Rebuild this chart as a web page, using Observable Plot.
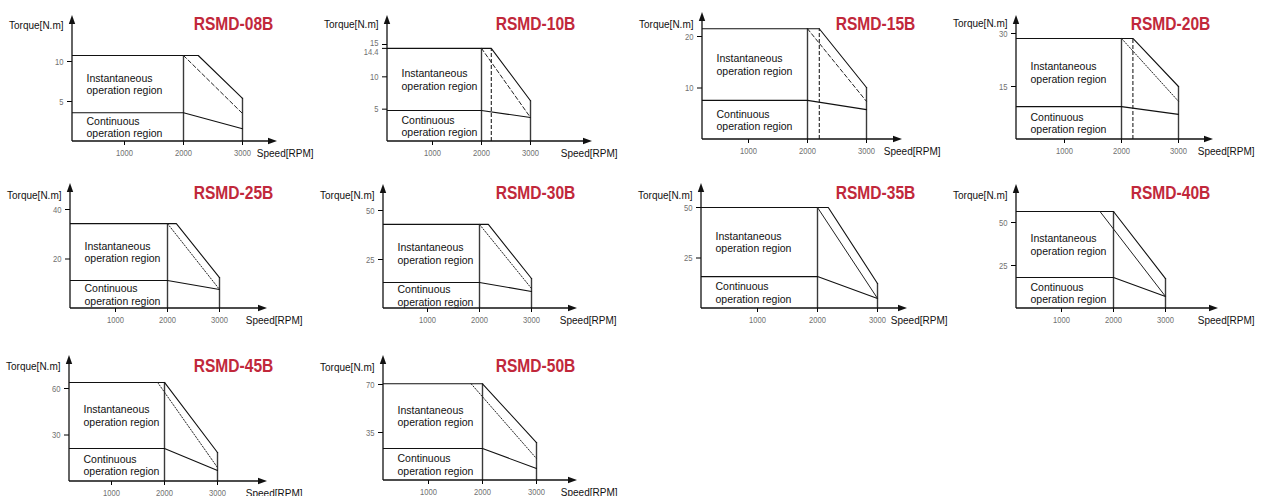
<!DOCTYPE html>
<html><head><meta charset="utf-8">
<script src="https://cdn.jsdelivr.net/npm/d3@7"></script>
<script src="https://cdn.jsdelivr.net/npm/@observablehq/plot@0.6"></script>
<style>
html,body{margin:0;padding:0;background:#fff;overflow:hidden;}
#root{position:relative;width:1261px;height:496px;overflow:hidden;background:#fff;}
.panel{position:absolute;width:315px;height:170px;}
.panel svg{overflow:visible;background:transparent;max-width:none !important;width:315px;height:170px;}
.panel g[aria-label^="x-axis"] text,.panel g[aria-label^="y-axis"] text{fill:#707070;font-family:"Liberation Sans",Arial,sans-serif;font-size:9.5px;}
</style></head><body><div id="root"></div>
<script>
// ---- data ----
const models = ["RSMD-08B","RSMD-10B","RSMD-15B","RSMD-20B","RSMD-25B","RSMD-30B","RSMD-35B","RSMD-40B","RSMD-45B","RSMD-50B"];
const torqueTicks = [[5,10],[5,10,14.4,15],[10,20],[15,30],[20,40],[25,50],[25,50],[25,50],[30,60],[35,70]];
const speedTicks = [1000,2000,3000];
const ratedSpeed = 2000;
const maxSpeed = 3000;
const peakTorque = [10.75,14.4,21.5,28.6,34.3,42.9,50,56.4,63.9,70.5];
const peakCornerSpeed = [2250,2200,2200,2200,2170,2170,2180,2000,2000,2000];
const peakTorqueAtMax = [5.4,6.3,10.1,15,12.5,15.3,12.4,17.4,18.7,27.7];
const ratedTorque = [3.6,4.8,7.6,9.3,11.3,13.3,15.8,18,21.3,23.3];
const ratedTorqueAtMax = [1.6,3.7,5.8,7.1,7.7,8.7,5,7,7.1,8.75];
const limitStartSpeed = [2000,2000,2000,2000,2000,2000,2000,1740,1870,1790];
const limitTorqueAtMax = [3.5,3.7,7.4,10.8,7.7,10.2,5,7,9,16];
const limitLineType = ["dashed","dashed","dashed","dotted","dotted","dotted","solid","solid","dotted","dotted"];
const markerSpeed = [null,2200,2200,2200,null,null,null,null,null,null];
const instLabel = "Instantaneous\noperation region";
const contLabel = "Continuous\noperation region";
const yTitle = "Torque[N.m]";
const xTitle = "Speed[RPM]";

// ---- layout (pixels) ----
const layout = [
 {left:0,  top:0,  axisX:72, axisY:141, px2000:183, px3000:242, pxTop:61, arrowTop:15, arrowRight:277, titleX:233, titleY:23, torqueY:25, speedRight:313},
 {left:315,top:0,  axisX:72, axisY:141, px2000:166, px3000:215, pxTop:44, arrowTop:15, arrowRight:277, titleX:220, titleY:23, torqueY:24, speedRight:302},
 {left:635,top:0,  axisX:67, axisY:139, px2000:172, px3000:231, pxTop:36, arrowTop:12, arrowRight:267, titleX:240, titleY:23, torqueY:24, speedRight:305},
 {left:950,top:0,  axisX:66, axisY:139, px2000:171, px3000:228, pxTop:33, arrowTop:15, arrowRight:263, titleX:220, titleY:23, torqueY:23, speedRight:304},
 {left:0,  top:170,axisX:70, axisY:138, px2000:167, px3000:219, pxTop:39, arrowTop:13, arrowRight:267, titleX:233, titleY:22, torqueY:25, speedRight:302},
 {left:315,top:170,axisX:68, axisY:138, px2000:164, px3000:216, pxTop:40, arrowTop:14, arrowRight:262, titleX:220, titleY:22, torqueY:25, speedRight:301},
 {left:635,top:170,axisX:66, axisY:138, px2000:182, px3000:242, pxTop:37, arrowTop:13, arrowRight:272, titleX:240, titleY:22, torqueY:25, speedRight:312},
 {left:950,top:170,axisX:66, axisY:138, px2000:163, px3000:215, pxTop:52, arrowTop:14, arrowRight:268, titleX:220, titleY:22, torqueY:25, speedRight:304},
 {left:0,  top:340,axisX:69, axisY:141, px2000:164, px3000:217, pxTop:48, arrowTop:15, arrowRight:267, titleX:233, titleY:25, torqueY:26, speedRight:302},
 {left:315,top:340,axisX:68, axisY:140, px2000:167, px3000:221, pxTop:44, arrowTop:15, arrowRight:262, titleX:220, titleY:25, torqueY:27, speedRight:302}
];
const W = 315, H = 170;
const labelFont = "'Liberation Sans', Arial, sans-serif";
const dashes = {dashed: "4,2.5", dotted: "1.3,1.7", solid: null};

function condense(el, factor) {
  const w = el.getComputedTextLength();
  if (w > 0) {
    el.setAttribute("textLength", (w * factor).toFixed(1));
    el.setAttribute("lengthAdjust", "spacingAndGlyphs");
  }
}

const root = document.getElementById("root");
models.forEach((model, i) => {
  const L = layout[i];
  const topTick = d3.max(torqueTicks[i]);
  const px1000 = 2 * L.px2000 - L.px3000;
  const outer = [
    {speed: 0, torque: peakTorque[i]},
    {speed: peakCornerSpeed[i], torque: peakTorque[i]},
    {speed: maxSpeed, torque: peakTorqueAtMax[i]}
  ];
  const cont = [
    {speed: 0, torque: ratedTorque[i]},
    {speed: ratedSpeed, torque: ratedTorque[i]},
    {speed: maxSpeed, torque: ratedTorqueAtMax[i]}
  ];
  const limit = [
    {speed: limitStartSpeed[i], torque: peakTorque[i]},
    {speed: maxSpeed, torque: limitTorqueAtMax[i]}
  ];
  const verticals = [
    {speed: ratedSpeed, top: peakTorque[i]},
    {speed: maxSpeed, top: peakTorqueAtMax[i]}
  ];
  const regions = [
    {torque: (ratedTorque[i] + peakTorque[i]) / 2, label: instLabel},
    {torque: ratedTorque[i] / 2, label: contLabel}
  ];
  const marks = [
    Plot.ruleX(verticals, {x: "speed", y1: 0, y2: "top", stroke: "#3a3a3a", strokeWidth: 1.4}),
    Plot.line(cont, {x: "speed", y: "torque", stroke: "#111", strokeWidth: 1.1, clip: true}),
    Plot.line(outer, {x: "speed", y: "torque", stroke: "#111", strokeWidth: 1.1, clip: true}),
    Plot.line(limit, {x: "speed", y: "torque", stroke: "#222", strokeWidth: 1, strokeDasharray: dashes[limitLineType[i]]})
  ];
  if (markerSpeed[i] != null) {
    marks.push(Plot.ruleX([markerSpeed[i]], {y1: 0, y2: peakTorque[i], stroke: "#222", strokeWidth: 1.1, strokeDasharray: "4,2"}));
  }
  marks.push(
    Plot.text(regions, {frameAnchor: "left", y: "torque", text: "label", dx: 14, textAnchor: "start", lineAnchor: "middle", lineHeight: 1.18, fontSize: 10.5, fill: "#111", fontFamily: labelFont}),
    Plot.text([model], {frameAnchor: "top-left", text: d => d, dx: L.titleX - L.axisX, dy: L.titleY - L.arrowTop, textAnchor: "middle", lineAnchor: "middle", fontSize: 19, fontWeight: "bold", fill: "#c1283b", fontFamily: labelFont}),
    Plot.text([yTitle], {frameAnchor: "top-left", text: d => d, dx: -9, dy: L.torqueY - L.arrowTop, textAnchor: "end", lineAnchor: "middle", fontSize: 10, fill: "#111", fontFamily: labelFont}),
    Plot.text([xTitle], {frameAnchor: "bottom-right", text: d => d, dx: L.speedRight - L.arrowRight, dy: 12, textAnchor: "end", lineAnchor: "middle", fontSize: 10, fill: "#111", fontFamily: labelFont})
  );
  const svg = Plot.plot({
    width: W, height: H,
    marginLeft: L.axisX, marginRight: W - L.arrowRight,
    marginTop: L.arrowTop, marginBottom: H - L.axisY,
    x: {type: "linear", domain: [1000, 3000], range: [px1000, L.px3000], ticks: speedTicks, tickFormat: d => String(d), tickSize: 4, tickPadding: 4, label: null},
    y: {type: "linear", domain: [0, topTick], range: [L.axisY, L.pxTop], ticks: torqueTicks[i], tickFormat: d => String(d), tickSize: 5, tickPadding: 4, label: null},
    style: {background: "transparent", overflow: "visible", fontFamily: labelFont},
    marks
  });
  // axis lines with arrowheads (decoration)
  const g = d3.select(svg).append("g").attr("fill", "#111").attr("stroke", "#111");
  g.append("line").attr("x1", L.axisX).attr("y1", L.axisY).attr("x2", L.axisX).attr("y2", L.arrowTop + 8).attr("stroke-width", 1.3);
  g.append("path").attr("d", `M${L.axisX},${L.arrowTop} l-3.2,9 h6.4 z`).attr("stroke", "none");
  g.append("line").attr("x1", L.axisX).attr("y1", L.axisY).attr("x2", L.arrowRight - 8).attr("y2", L.axisY).attr("stroke-width", 1.3);
  g.append("path").attr("d", `M${L.arrowRight},${L.axisY} l-9,-3.2 v6.4 z`).attr("stroke", "none");
  const div = document.createElement("div");
  div.className = "panel";
  div.style.left = L.left + "px";
  div.style.top = L.top + "px";
  div.appendChild(svg);
  root.appendChild(div);

  // narrow the tick labels and the title like the reference's condensed type
  svg.querySelectorAll('g[aria-label^="x-axis"] text, g[aria-label^="y-axis"] text').forEach(t => condense(t, 0.8));
  d3.select(svg).selectAll("text").filter(function() { return this.textContent === model; }).each(function() { condense(this, 0.82); });

  // separate y tick labels that are too close (e.g. 14.4 and 15)
  const ylabs = Array.from(svg.querySelectorAll('g[aria-label^="y-axis"] text'))
    .map(el => { const b = el.getBBox(); const m = el.getCTM(); return {el, cy: m ? m.f + b.y + b.height / 2 : b.y + b.height / 2}; })
    .sort((a, b) => a.cy - b.cy);
  for (let k = 1; k < ylabs.length; k++) {
    const gap = ylabs[k].cy - ylabs[k - 1].cy;
    if (gap < 9.5) {
      const need = 9.5 - gap;
      const shift = (o, d) => o.el.setAttribute("transform", ((o.el.getAttribute("transform") || "") + ` translate(0,${d})`).trim());
      shift(ylabs[k - 1], -need / 3);
      shift(ylabs[k], (2 * need) / 3);
    }
  }
});
</script>
</body></html>
